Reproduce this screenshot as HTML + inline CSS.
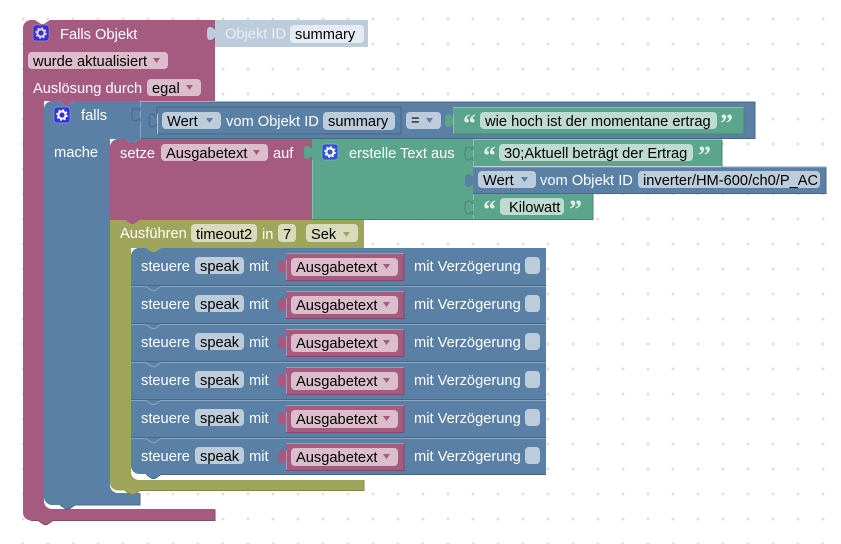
<!DOCTYPE html>
<html><head><meta charset="utf-8">
<style>
html,body{margin:0;padding:0;background:#fff;width:841px;height:544px;overflow:hidden}
svg{display:block}
text{font-family:"Liberation Sans",Arial,sans-serif;font-size:14.67px;white-space:pre}
.w{fill:#fff}.k{fill:#000}
.q{font-family:"Liberation Serif",serif;font-size:26px;font-weight:bold;fill:#dfeee9}
.fp{fill:#dbbdcc}.fb{fill:#bdccdb}.fg{fill:#bddbd1}.fo{fill:#d9dbbd}
.ap{fill:#a55b80}.ab{fill:#5b80a5}.ao{fill:#9fa55b}
.d{fill:none;stroke-width:1}
</style></head><body>
<svg width="841" height="544" viewBox="0 0 841 544" xmlns="http://www.w3.org/2000/svg">
<defs>
<pattern id="g" width="25" height="25" patternUnits="userSpaceOnUse" patternTransform="translate(10.5 6.5)">
<path d="M11 12.5h3M12.5 11v3" stroke="#d4d4d4" stroke-width="1" fill="none"/>
</pattern>
</defs>
<rect width="841" height="544" fill="#fff"/>
<rect width="841" height="544" fill="url(#g)"/>

<!-- pink outer -->
<path fill="#a55b80" d="M23 28a8 8 0 0 1 8-8h4l6 4h3l6-4H215V101H74l-6 4h-3l-6-4H44V501a8 8 0 0 0 8 8H215V520.500H53l-6 4h-3l-6-4H31a8 8 0 0 1-8-8Z"/>
<path class="d" stroke="#844966" d="M215 509.500V520.500H53l-6 4h-3l-6-4H31"/>

<!-- object id shadow block -->
<path fill="#bdccdb" d="M215 20H368V47H215V41v-3.500c-1-.5-2 2.500-5 2.500c-2.500 0-3-2-3-6.500c0-4.500.5-6.500 3-6.500c3 0 4 3 5 2.500v-3.500Z"/>
<rect x="290" y="25" width="74" height="18" rx="4" fill="#e5ebf1"/>
<text x="225" y="38.500" fill="#e9eff4">Objekt ID</text>
<text x="295" y="39" class="k">summary</text>

<!-- blue if -->
<path fill="#5b80a5" d="M44 109a8 8 0 0 1 8-8h7l6 4h3l6-4H140V139H110V485a8 8 0 0 0 8 8H140V505H75l-6 4h-3l-6-4H52a8 8 0 0 1-8-8Z"/>
<path class="d" stroke="#496684" d="M140 493.500V505H75l-6 4h-3l-6-4"/>
<path d="M125 139h15l-6 4h-3Z" fill="#5b80a5"/>

<!-- condition block -->
<path fill="#5b80a5" d="M140 101.500H755V138.500H140Z"/>
<path class="d" stroke="#496684" d="M755 102V138.500H140M140 102H755"/>
<path class="d" stroke="#8ca6c0" d="M140.500 101.500V139"/>
<path d="M140 122v-3.500c-1-.5-2 2.500-5 2.500c-2.500 0-3-2-3-6.500c0-4.500.5-6.500 3-6.500c3 0 4 3 5 2.500v-3.500" fill="#5b80a5" stroke="#496684" stroke-width="1"/>
<path d="M157 107H401V134H157V128v-3.500c-1-.5-2 2.500-5 2.500c-2.500 0-3-2-3-6.500c0-4.500.5-6.500 3-6.500c3 0 4 3 5 2.500v-3.500Z" fill="#5b80a5" stroke="#496684" stroke-width="1"/>
<path d="M157.500 114V134" stroke="#b9c9d9" fill="none"/>

<rect x="162" y="112" width="59" height="17" rx="4" class="fb"/>
<text x="167" y="126" class="k">Wert</text><path d="M206 118h7l-3.500 5Z" class="ab"/>
<text x="226" y="126" class="w">vom Objekt ID</text>
<rect x="323" y="112" width="72" height="18" rx="4" class="fb"/>
<text x="328" y="126" class="k">summary</text>
<rect x="406" y="112" width="35" height="17" rx="4" class="fb"/>
<text x="411" y="125" class="k">=</text><path d="M426 118h7l-3.500 5Z" class="ab"/>

<path d="M453 107H744V134H453V128v-3.500c-1-.5-2 2.500-5 2.500c-2.500 0-3-2-3-6.500c0-4.500.5-6.500 3-6.500c3 0 4 3 5 2.500v-3.500Z" fill="#5ba58c"/>
<path class="d" stroke="#8cc0ae" d="M453.500 114V134M453 107.500H744"/>
<path class="d" stroke="#498470" d="M744 107.500V134H453"/>
<text x="463" y="132" class="q">“</text>
<rect x="480" y="112" width="237" height="17" rx="4" class="fg"/>
<text x="485" y="126" class="k">wie hoch ist der momentane ertrag</text>
<text x="720" y="132" class="q">”</text>

<!-- set block -->
<path fill="#a55b80" d="M110 147a8 8 0 0 1 8-8h7l6 4h3l6-4H312V220H140l-6 4h-3l-6-4H110Z"/>
<rect x="161" y="144" width="107" height="17" rx="4" class="fp"/>
<text x="120" y="158" class="w">setze</text>
<text x="166" y="158" class="k">Ausgabetext</text><path d="M253 150h7l-3.500 5Z" class="ap"/>
<text x="273" y="158" class="w">auf</text>

<!-- text join -->
<path fill="#5ba58c" d="M312 139H473V219.500H312V160v-3.500c-1-.5-2 2.500-5 2.500c-2.500 0-3-2-3-6.500c0-4.500.5-6.500 3-6.500c3 0 4 3 5 2.500v-3.500Z"/>
<path class="d" stroke="#498470" d="M312 219.500H473"/>
<path class="d" stroke="#8cc0ae" d="M312.500 160V219"/>
<path d="M473 139.500H722V166H473Z" fill="#5ba58c"/>
<path d="M473 193H593V219.500H473Z" fill="#5ba58c"/>
<path class="d" stroke="#498470" d="M722 140V166.500M593 193.500V219.500H473"/>
<path class="d" stroke="#8cc0ae" d="M473 139.500H722M473.500 140V219"/>
<path d="M473 161v-3.500c-1-.5-2 2.500-5 2.500c-2.500 0-3-2-3-6.500c0-4.500.5-6.500 3-6.500c3 0 4 3 5 2.500v-3.500" fill="#5ba58c" stroke="#498470" stroke-width="1"/>
<path d="M473 215v-3.500c-1-.5-2 2.500-5 2.500c-2.500 0-3-2-3-6.500c0-4.500.5-6.500 3-6.500c3 0 4 3 5 2.500v-3.500" fill="#5ba58c" stroke="#498470" stroke-width="1"/>
<path d="M473 167H826V193H473V188v-3.500c-1-.5-2 2.500-5 2.500c-2.500 0-3-2-3-6.500c0-4.500.5-6.500 3-6.500c3 0 4 3 5 2.500v-3.500Z" fill="#5b80a5"/>
<path class="d" stroke="#496684" d="M826 167V193.500H473"/>
<path class="d" stroke="#8ca6c0" d="M473 167H826"/>

<rect x="322" y="144" width="16" height="16" rx="3" fill="#2f55cf" stroke="#8fa6e0" stroke-width=".7"/>
<circle cx="330" cy="152" r="3.600" fill="none" stroke="#fff" stroke-width="2"/>
<circle cx="330" cy="152" r="5" fill="none" stroke="#fff" stroke-width="1.500" stroke-dasharray="2 1.930"/>
<text x="349" y="158" class="w">erstelle Text aus</text>

<text x="483" y="164" class="q">“</text>
<rect x="499" y="144" width="194" height="17" rx="4" class="fg"/>
<text x="504" y="158" class="k">30;Aktuell beträgt der Ertrag</text>
<text x="698" y="164" class="q">”</text>

<rect x="478" y="171" width="58" height="17" rx="4" class="fb"/>
<text x="483" y="185" class="k">Wert</text><path d="M521 177h7l-3.500 5Z" class="ab"/>
<text x="540" y="185" class="w">vom Objekt ID</text>
<rect x="638" y="171" width="182" height="17" rx="4" class="fb"/>
<text x="643" y="185" class="k">inverter/HM-600/ch0/P_AC</text>

<text x="483" y="218" class="q">“</text>
<rect x="500" y="198" width="64" height="17" rx="4" class="fg"/>
<text x="509" y="212" class="k">Kilowatt</text>
<text x="569" y="218" class="q">”</text>

<!-- olive timeout -->
<path fill="#9fa55b" d="M110 220H125l6 4h3l6-4H364V248H161l-6 4h-3l-6-4H131V472a8 8 0 0 0 8 8H364V490.500H140l-6 4h-3l-6-4H118a8 8 0 0 1-8-8Z"/>
<path class="d" stroke="#7f844a" d="M364 480V490.500H140l-6 4h-3l-6-4"/>
<rect x="191" y="224" width="66" height="18" rx="4" class="fo"/>
<rect x="278" y="224" width="18" height="18" rx="4" class="fo"/>
<rect x="306" y="224" width="52" height="18" rx="4" class="fo"/>
<text x="120" y="238" class="w">Ausführen</text>
<text x="196" y="239" class="k">timeout2</text>
<text x="262" y="239" class="w">in</text>
<text x="283" y="239" class="k">7</text>
<text x="311" y="239" class="k">Sek</text><path d="M343 232h7l-3.500 5Z" class="ao"/>

<!-- blue rows -->
<path fill="#5b80a5" d="M131 256a8 8 0 0 1 8-8h7l6 4h3l6-4H546V474H161l-6 4h-3l-6-4H139a8 8 0 0 1-8-8Z"/>
<path class="d" stroke="#496684" d="M546 474.500H161l-6 4h-3l-6-4M131 285.500H546M131 323.500H546M131 361.500H546M131 399.500H546M131 437.500H546"/>
<path class="d" stroke="#8ca6c0" d="M131 286.500H146l6 4h3l6-4H546M131 324.500H146l6 4h3l6-4H546M131 362.500H146l6 4h3l6-4H546M131 400.500H146l6 4h3l6-4H546M131 438.500H146l6 4h3l6-4H546"/>

<!-- row 1 -->
<g>
<text x="141" y="271" class="w">steuere</text>
<rect x="195" y="257" width="49" height="17" rx="4" class="fb"/><text x="200" y="271" class="k">speak</text>
<text x="249" y="271" class="w">mit</text>
<path d="M286 253H404V280.500H286V274v-3.500c-1-.5-2 2.500-5 2.500c-2.500 0-3-2-3-6.500c0-4.500.5-6.500 3-6.500c3 0 4 3 5 2.500v-3.500Z" fill="#a55b80"/>
<path class="d" stroke="#844966" d="M404 253V280.500H286"/><path class="d" stroke="#c08ca6" d="M286 253.500H404M286.500 260V280"/>
<rect x="291" y="258" width="107" height="18" rx="4" class="fp"/><text x="296" y="272" class="k">Ausgabetext</text><path d="M383 264h7l-3.500 5Z" class="ap"/>
<text x="414" y="271" class="w">mit Verzögerung</text>
<rect x="525" y="257" width="15" height="17" rx="4" class="fb"/>
</g>
<!-- row 2 -->
<g>
<text x="141" y="309" class="w">steuere</text>
<rect x="195" y="295" width="49" height="17" rx="4" class="fb"/><text x="200" y="309" class="k">speak</text>
<text x="249" y="309" class="w">mit</text>
<path d="M286 291H404V318.500H286V312v-3.500c-1-.5-2 2.500-5 2.500c-2.500 0-3-2-3-6.500c0-4.500.5-6.500 3-6.500c3 0 4 3 5 2.500v-3.500Z" fill="#a55b80"/>
<path class="d" stroke="#844966" d="M404 291V318.500H286"/><path class="d" stroke="#c08ca6" d="M286 291.500H404M286.500 298V318"/>
<rect x="291" y="296" width="107" height="18" rx="4" class="fp"/><text x="296" y="310" class="k">Ausgabetext</text><path d="M383 302h7l-3.500 5Z" class="ap"/>
<text x="414" y="309" class="w">mit Verzögerung</text>
<rect x="525" y="295" width="15" height="17" rx="4" class="fb"/>
</g>
<!-- row 3 -->
<g>
<text x="141" y="347" class="w">steuere</text>
<rect x="195" y="333" width="49" height="17" rx="4" class="fb"/><text x="200" y="347" class="k">speak</text>
<text x="249" y="347" class="w">mit</text>
<path d="M286 329H404V356.500H286V350v-3.500c-1-.5-2 2.500-5 2.500c-2.500 0-3-2-3-6.500c0-4.500.5-6.500 3-6.500c3 0 4 3 5 2.500v-3.500Z" fill="#a55b80"/>
<path class="d" stroke="#844966" d="M404 329V356.500H286"/><path class="d" stroke="#c08ca6" d="M286 329.500H404M286.500 336V356"/>
<rect x="291" y="334" width="107" height="18" rx="4" class="fp"/><text x="296" y="348" class="k">Ausgabetext</text><path d="M383 340h7l-3.500 5Z" class="ap"/>
<text x="414" y="347" class="w">mit Verzögerung</text>
<rect x="525" y="333" width="15" height="17" rx="4" class="fb"/>
</g>
<!-- row 4 -->
<g>
<text x="141" y="385" class="w">steuere</text>
<rect x="195" y="371" width="49" height="17" rx="4" class="fb"/><text x="200" y="385" class="k">speak</text>
<text x="249" y="385" class="w">mit</text>
<path d="M286 367H404V394.500H286V388v-3.500c-1-.5-2 2.500-5 2.500c-2.500 0-3-2-3-6.500c0-4.500.5-6.500 3-6.500c3 0 4 3 5 2.500v-3.500Z" fill="#a55b80"/>
<path class="d" stroke="#844966" d="M404 367V394.500H286"/><path class="d" stroke="#c08ca6" d="M286 367.500H404M286.500 374V394"/>
<rect x="291" y="372" width="107" height="18" rx="4" class="fp"/><text x="296" y="386" class="k">Ausgabetext</text><path d="M383 378h7l-3.500 5Z" class="ap"/>
<text x="414" y="385" class="w">mit Verzögerung</text>
<rect x="525" y="371" width="15" height="17" rx="4" class="fb"/>
</g>
<!-- row 5 -->
<g>
<text x="141" y="423" class="w">steuere</text>
<rect x="195" y="409" width="49" height="17" rx="4" class="fb"/><text x="200" y="423" class="k">speak</text>
<text x="249" y="423" class="w">mit</text>
<path d="M286 405H404V432.500H286V426v-3.500c-1-.5-2 2.500-5 2.500c-2.500 0-3-2-3-6.500c0-4.500.5-6.500 3-6.500c3 0 4 3 5 2.500v-3.500Z" fill="#a55b80"/>
<path class="d" stroke="#844966" d="M404 405V432.500H286"/><path class="d" stroke="#c08ca6" d="M286 405.500H404M286.500 412V432"/>
<rect x="291" y="410" width="107" height="18" rx="4" class="fp"/><text x="296" y="424" class="k">Ausgabetext</text><path d="M383 416h7l-3.500 5Z" class="ap"/>
<text x="414" y="423" class="w">mit Verzögerung</text>
<rect x="525" y="409" width="15" height="17" rx="4" class="fb"/>
</g>
<!-- row 6 -->
<g>
<text x="141" y="461" class="w">steuere</text>
<rect x="195" y="447" width="49" height="17" rx="4" class="fb"/><text x="200" y="461" class="k">speak</text>
<text x="249" y="461" class="w">mit</text>
<path d="M286 443H404V470.500H286V464v-3.500c-1-.5-2 2.500-5 2.500c-2.500 0-3-2-3-6.500c0-4.500.5-6.500 3-6.500c3 0 4 3 5 2.500v-3.500Z" fill="#a55b80"/>
<path class="d" stroke="#844966" d="M404 443V470.500H286"/><path class="d" stroke="#c08ca6" d="M286 443.500H404M286.500 450V470"/>
<rect x="291" y="448" width="107" height="18" rx="4" class="fp"/><text x="296" y="462" class="k">Ausgabetext</text><path d="M383 454h7l-3.500 5Z" class="ap"/>
<text x="414" y="461" class="w">mit Verzögerung</text>
<rect x="525" y="447" width="15" height="17" rx="4" class="fb"/>
</g>

<!-- pink header content -->
<rect x="33" y="25" width="16" height="16" rx="3" fill="#3c2dc8" stroke="#8f88e0" stroke-width=".7"/>
<circle cx="41" cy="33" r="3.600" fill="none" stroke="#d8d8f0" stroke-width="2"/>
<circle cx="41" cy="33" r="5" fill="none" stroke="#d8d8f0" stroke-width="1.500" stroke-dasharray="2 1.930"/>
<text x="60" y="39" class="w">Falls Objekt</text>
<rect x="28" y="52" width="140" height="17" rx="4" class="fp"/>
<text x="33" y="66" class="k">wurde aktualisiert</text><path d="M153 58h7l-3.500 5Z" class="ap"/>
<text x="33" y="93" class="w">Auslösung durch</text>
<rect x="147" y="79" width="54" height="17" rx="4" class="fp"/>
<text x="152" y="93" class="k">egal</text><path d="M186 85h7l-3.500 5Z" class="ap"/>

<!-- falls content -->
<rect x="54" y="107" width="16" height="16" rx="3" fill="#3333dd" stroke="#8f9be0" stroke-width=".7"/>
<circle cx="62" cy="115" r="3.600" fill="none" stroke="#fff" stroke-width="2"/>
<circle cx="62" cy="115" r="5" fill="none" stroke="#fff" stroke-width="1.500" stroke-dasharray="2 1.930"/>
<text x="81" y="120" class="w">falls</text>
<text x="54" y="157" class="w">mache</text>
</svg>
</body></html>
